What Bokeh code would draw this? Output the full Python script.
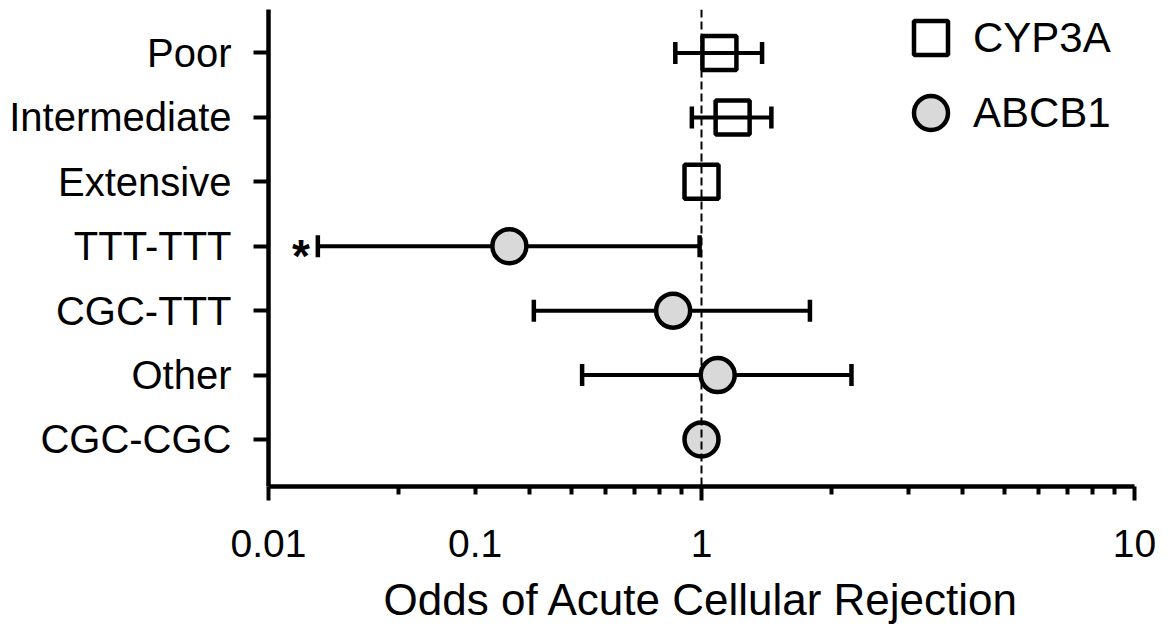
from bokeh.plotting import figure
from bokeh.models import (Range1d, FixedTicker, LogAxis, Whisker, TeeHead, Span,
                          Legend, LegendItem, ColumnDataSource)
from bokeh.core.properties import value
from bokeh.embed import file_html
from bokeh.resources import INLINE

# ---------------- data ----------------
categories = ["Poor", "Intermediate", "Extensive", "TTT-TTT", "CGC-TTT", "Other", "CGC-CGC"]
gene = ["CYP3A", "CYP3A", "CYP3A", "ABCB1", "ABCB1", "ABCB1", "ABCB1"]
odds = [1.10, 1.18, 1.00, 0.36, 0.86, 1.09, 1.00]
ci_lower = [0.87, 0.95, None, 0.13, 0.41, 0.53, None]
ci_upper = [1.38, 1.45, None, 0.99, 1.78, 2.22, None]
significant = [False, False, False, True, False, False, False]

x_major = [0.1, 1, 10]
x_minor = [m * d for d in [0.1, 1] for m in range(2, 10)]
x_label_pos = [0.1, 0.3, 1, 10]
x_label_text = ["0.01", "0.1", "1", "10"]
reference_odds = 1

FONT = "Liberation Sans"

n = len(categories)
ypos = [n - 1 - i for i in range(n)]

def subset(mask):
    idx = [i for i in range(n) if mask(i)]
    return ColumnDataSource(dict(
        x=[odds[i] for i in idx],
        y=[ypos[i] for i in idx],
        lo=[ci_lower[i] for i in idx],
        hi=[ci_upper[i] for i in idx],
    ))

src_cyp = subset(lambda i: gene[i] == "CYP3A")
src_abc = subset(lambda i: gene[i] == "ABCB1")
src_ci = subset(lambda i: ci_lower[i] is not None)
src_sig = subset(lambda i: significant[i])

p = figure(width=1167, height=626, x_axis_type="log",
           x_range=Range1d(0.1, 10), y_range=Range1d(-0.73, 6.675),
           output_backend="svg", toolbar_location=None,
           min_border_left=268, min_border_right=33, min_border_top=9, min_border_bottom=140)
p.outline_line_color = None
p.xgrid.visible = False
p.ygrid.visible = False

# error bars
wh = Whisker(source=src_ci, base="y", lower="lo", upper="hi", dimension="width",
             line_width=4, line_color="black",
             lower_head=TeeHead(size=22, line_width=4.5, line_color="black"),
             upper_head=TeeHead(size=22, line_width=4.5, line_color="black"))
p.add_layout(wh)

r_sq = p.scatter(x="x", y="y", source=src_cyp, marker="square", size=34,
                 fill_color=None, line_color="black", line_width=4.5)
r_ci = p.scatter(x="x", y="y", source=src_abc, marker="circle", size=34,
                 fill_color="#d9d9d9", line_color="black", line_width=4.5)

p.text(x="lo", y="y", text=value("*"), source=src_sig, text_align="right",
       text_baseline="alphabetic", x_offset=-8, y_offset=10,
       text_font=value(FONT), text_font_style="bold", text_font_size="46px",
       text_color="black")

p.add_layout(Span(location=reference_odds, dimension="height", line_dash="8 4",
                  line_width=2, line_color="black"))

# x axis: ticks only
ax1 = p.xaxis[0]
ax1.ticker = FixedTicker(ticks=x_major, minor_ticks=x_minor)
ax1.major_label_overrides = {v: "" for v in x_major}
ax1.major_label_text_font_size = "1px"
ax1.major_label_standoff = 0
ax1.axis_line_width = 4.5
ax1.axis_line_color = "black"
ax1.major_tick_line_width = 4
ax1.major_tick_in = 0
ax1.major_tick_out = 14
ax1.minor_tick_line_width = 4
ax1.minor_tick_in = 0
ax1.minor_tick_out = 8

# x axis: labels
ax2 = LogAxis(ticker=FixedTicker(ticks=x_label_pos, minor_ticks=[]),
              major_label_overrides={v: t for v, t in zip(x_label_pos, x_label_text)},
              axis_line_color=None, major_tick_line_color=None, minor_tick_line_color=None,
              major_tick_in=0, major_tick_out=0, major_label_standoff=29,
              major_label_text_font=FONT, major_label_text_font_size="39px",
              major_label_text_color="black",
              axis_label="Odds of Acute Cellular Rejection",
              axis_label_text_font=FONT, axis_label_text_font_size="44px",
              axis_label_text_font_style="normal", axis_label_text_color="black",
              axis_label_standoff=15)
p.add_layout(ax2, "below")

# y axis
ya = p.yaxis[0]
ya.ticker = FixedTicker(ticks=ypos, minor_ticks=[])
ya.major_label_overrides = {y: c for y, c in zip(ypos, categories)}
ya.axis_line_width = 4.5
ya.axis_line_color = "black"
ya.major_tick_line_width = 4
ya.major_tick_in = 0
ya.major_tick_out = 15
ya.major_label_standoff = 22
ya.major_label_text_font = FONT
ya.major_label_text_font_size = "40px"
ya.major_label_text_color = "black"

legend_style = dict(glyph_width=85, glyph_height=85, label_standoff=0, spacing=0,
                    padding=0, margin=0, border_line_color=None, background_fill_alpha=0,
                    label_text_font=FONT, label_text_font_size="42px",
                    label_text_color="black")
p.add_layout(Legend(items=[LegendItem(label="CYP3A", renderers=[r_sq])],
                    location=(620, 406), **legend_style))
p.add_layout(Legend(items=[LegendItem(label="ABCB1", renderers=[r_ci])],
                    location=(620, 331), **legend_style))

open("out.html", "w").write(file_html(p, INLINE))
